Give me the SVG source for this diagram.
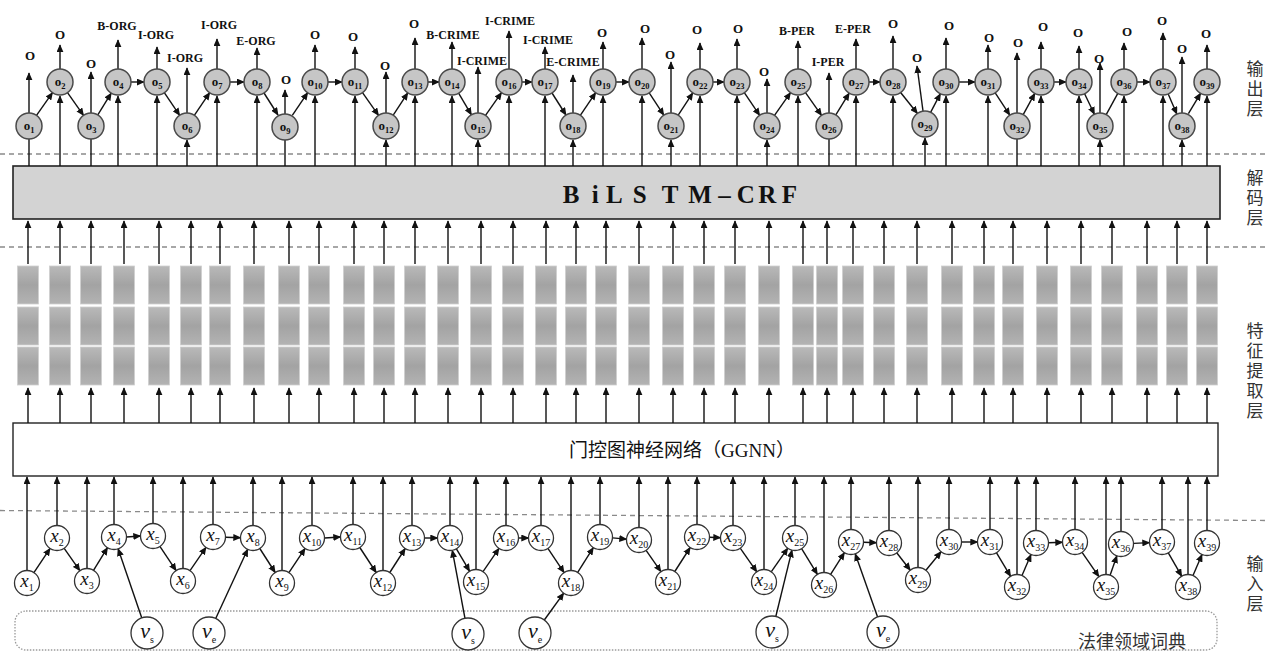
<svg xmlns="http://www.w3.org/2000/svg" xmlns:xlink="http://www.w3.org/1999/xlink" width="1266" height="652" viewBox="0 0 1266 652">
<style>
.ln{stroke:#111;stroke-width:1.4;fill:none}
.ar{stroke:#111;stroke-width:1.4;fill:none;marker-end:url(#arr)}
.dash{stroke:#8a8a8a;stroke-width:1.3;stroke-dasharray:5 4;fill:none}
.on circle{fill:#c6c6c6;stroke:#4a4a4a;stroke-width:1.5}
.on text{font-family:"Liberation Serif","DejaVu Serif",serif;font-weight:bold;font-size:13px;text-anchor:middle;fill:#111}
.on .s{font-size:8.5px}
.xn circle,.vn circle{fill:#fff;stroke:#333;stroke-width:1.3}
.xn text,.vn text{font-family:"Liberation Serif","DejaVu Serif",serif;font-style:italic;font-size:19px;text-anchor:middle;fill:#111}
.vn text{font-size:22px}
.xn .s,.vn .s{font-style:normal;font-size:10px}
.tag{font-family:"Liberation Serif","DejaVu Serif",serif;font-weight:bold;font-size:12px;text-anchor:middle;fill:#111}
.tag.o{font-size:13px}
.side{font-family:"Liberation Serif","Noto Sans CJK SC",sans-serif;font-size:17px;fill:#333;text-anchor:middle}
</style>
<defs>
<marker id="arr" viewBox="0 0 10 10" refX="9" refY="5" markerWidth="8" markerHeight="7" markerUnits="userSpaceOnUse" orient="auto" preserveAspectRatio="none"><path d="M0,0 L10,5 L0,10 z" fill="#111"/></marker>
<linearGradient id="cg" x1="0" y1="0" x2="0" y2="1"><stop offset="0" stop-color="#b9b9b9"/><stop offset="0.5" stop-color="#a3a3a3"/><stop offset="1" stop-color="#b3b3b3"/></linearGradient>
<g id="col"><rect x="-10.5" y="266" width="21" height="38" fill="url(#cg)" stroke="#cfcfcf" stroke-width="0.8"/><rect x="-10.5" y="307" width="21" height="38" fill="url(#cg)" stroke="#cfcfcf" stroke-width="0.8"/><rect x="-10.5" y="347" width="21" height="38" fill="url(#cg)" stroke="#cfcfcf" stroke-width="0.8"/></g>
</defs>
<rect width="1266" height="652" fill="#fff"/>

<g id="separators">
<line class="dash" x1="0" y1="154" x2="1266" y2="154"/>
<line class="dash" x1="0" y1="247" x2="1266" y2="247"/>
<line class="dash" x1="0" y1="510.5" x2="1266" y2="520.5"/>
</g>

<g id="lexicon">
<rect x="15" y="611" width="1202" height="39" rx="11" fill="none" stroke="#9a9a9a" stroke-width="1.3" stroke-dasharray="1.5 1.5"/>
<text x="1132" y="648" style="font-family:'Liberation Serif','Noto Sans CJK SC',sans-serif;font-size:18px;fill:#333;text-anchor:middle">法律领域词典</text>
</g>

<g id="bilstm">
<rect x="13" y="166" width="1207" height="53" fill="#d3d3d3" stroke="#222" stroke-width="1.6"/>
<text y="203" x="562.7 591.7 606 632.7 661.7 688.3 718.3 736.7 758.3 781.7" style="font-family:'Liberation Serif','DejaVu Serif',serif;font-weight:bold;font-size:25px;fill:#111">BiLSTM–CRF</text>
</g>

<g id="ggnn">
<rect x="13" y="423" width="1205" height="53" fill="#fff" stroke="#222" stroke-width="1.4"/>
<text x="682" y="457" style="font-family:'Liberation Serif','Noto Sans CJK SC',serif;font-size:19px;fill:#111;text-anchor:middle">门控图神经网络（GGNN）</text>
</g>

<g id="features">
<use xlink:href="#col" x="28"/><use xlink:href="#col" x="60"/><use xlink:href="#col" x="91"/><use xlink:href="#col" x="124"/><use xlink:href="#col" x="159"/><use xlink:href="#col" x="191"/><use xlink:href="#col" x="220"/><use xlink:href="#col" x="254"/><use xlink:href="#col" x="289"/><use xlink:href="#col" x="319"/><use xlink:href="#col" x="354"/><use xlink:href="#col" x="384"/><use xlink:href="#col" x="415"/><use xlink:href="#col" x="448"/><use xlink:href="#col" x="481"/><use xlink:href="#col" x="513"/><use xlink:href="#col" x="546"/><use xlink:href="#col" x="576"/><use xlink:href="#col" x="606"/><use xlink:href="#col" x="639"/><use xlink:href="#col" x="673"/><use xlink:href="#col" x="704"/><use xlink:href="#col" x="735"/><use xlink:href="#col" x="769"/><use xlink:href="#col" x="803"/><use xlink:href="#col" x="827"/><use xlink:href="#col" x="853"/><use xlink:href="#col" x="884"/><use xlink:href="#col" x="917"/><use xlink:href="#col" x="952"/><use xlink:href="#col" x="984"/><use xlink:href="#col" x="1013"/><use xlink:href="#col" x="1047"/><use xlink:href="#col" x="1081"/><use xlink:href="#col" x="1112"/><use xlink:href="#col" x="1147"/><use xlink:href="#col" x="1177"/><use xlink:href="#col" x="1207"/>
</g>

<g id="connectors">
<path class="ar" d="M28 423V388"/><path class="ar" d="M60 423V388"/><path class="ar" d="M91 423V388"/><path class="ar" d="M124 423V388"/><path class="ar" d="M159 423V388"/><path class="ar" d="M191 423V388"/><path class="ar" d="M220 423V388"/><path class="ar" d="M254 423V388"/><path class="ar" d="M289 423V388"/><path class="ar" d="M319 423V388"/><path class="ar" d="M354 423V388"/><path class="ar" d="M384 423V388"/><path class="ar" d="M415 423V388"/><path class="ar" d="M448 423V388"/><path class="ar" d="M481 423V388"/><path class="ar" d="M513 423V388"/><path class="ar" d="M546 423V388"/><path class="ar" d="M576 423V388"/><path class="ar" d="M606 423V388"/><path class="ar" d="M639 423V388"/><path class="ar" d="M673 423V388"/><path class="ar" d="M704 423V388"/><path class="ar" d="M735 423V388"/><path class="ar" d="M769 423V388"/><path class="ar" d="M803 423V388"/><path class="ar" d="M827 423V388"/><path class="ar" d="M853 423V388"/><path class="ar" d="M884 423V388"/><path class="ar" d="M917 423V388"/><path class="ar" d="M952 423V388"/><path class="ar" d="M984 423V388"/><path class="ar" d="M1013 423V388"/><path class="ar" d="M1047 423V388"/><path class="ar" d="M1081 423V388"/><path class="ar" d="M1112 423V388"/><path class="ar" d="M1147 423V388"/><path class="ar" d="M1177 423V388"/><path class="ar" d="M1207 423V388"/>
<path class="ar" d="M28 264V221"/><path class="ar" d="M60 264V221"/><path class="ar" d="M91 264V221"/><path class="ar" d="M124 264V221"/><path class="ar" d="M159 264V221"/><path class="ar" d="M191 264V221"/><path class="ar" d="M220 264V221"/><path class="ar" d="M254 264V221"/><path class="ar" d="M289 264V221"/><path class="ar" d="M319 264V221"/><path class="ar" d="M354 264V221"/><path class="ar" d="M384 264V221"/><path class="ar" d="M415 264V221"/><path class="ar" d="M448 264V221"/><path class="ar" d="M481 264V221"/><path class="ar" d="M513 264V221"/><path class="ar" d="M546 264V221"/><path class="ar" d="M576 264V221"/><path class="ar" d="M606 264V221"/><path class="ar" d="M639 264V221"/><path class="ar" d="M673 264V221"/><path class="ar" d="M704 264V221"/><path class="ar" d="M735 264V221"/><path class="ar" d="M769 264V221"/><path class="ar" d="M803 264V221"/><path class="ar" d="M827 264V221"/><path class="ar" d="M853 264V221"/><path class="ar" d="M884 264V221"/><path class="ar" d="M917 264V221"/><path class="ar" d="M952 264V221"/><path class="ar" d="M984 264V221"/><path class="ar" d="M1013 264V221"/><path class="ar" d="M1047 264V221"/><path class="ar" d="M1081 264V221"/><path class="ar" d="M1112 264V221"/><path class="ar" d="M1147 264V221"/><path class="ar" d="M1177 264V221"/><path class="ar" d="M1207 264V221"/>
<path class="ln" d="M29 166V139"/><path class="ar" d="M60 166V96"/><path class="ln" d="M91 166V139"/><path class="ar" d="M118 166V96"/><path class="ar" d="M157 166V96"/><path class="ar" d="M187 166V140"/><path class="ar" d="M217 166V96"/><path class="ar" d="M257 166V96"/><path class="ln" d="M285 166V139"/><path class="ar" d="M315 166V96"/><path class="ar" d="M355 166V96"/><path class="ar" d="M386 166V140"/><path class="ar" d="M415 166V96"/><path class="ar" d="M452 166V96"/><path class="ar" d="M478 166V140"/><path class="ar" d="M509 166V96"/><path class="ar" d="M545 166V96"/><path class="ar" d="M573 166V140"/><path class="ar" d="M603 166V96"/><path class="ar" d="M642 166V96"/><path class="ar" d="M671 166V140"/><path class="ar" d="M700 166V96"/><path class="ar" d="M737 166V96"/><path class="ar" d="M767 166V140"/><path class="ar" d="M798 166V96"/><path class="ln" d="M829 166V139"/><path class="ar" d="M856 166V96"/><path class="ar" d="M893 166V96"/><path class="ar" d="M925 166V138"/><path class="ar" d="M946 166V96"/><path class="ar" d="M988 166V96"/><path class="ln" d="M1017 166V139"/><path class="ar" d="M1041 166V96"/><path class="ar" d="M1079 166V96"/><path class="ar" d="M1100 166V140"/><path class="ar" d="M1124 166V96"/><path class="ar" d="M1163 166V96"/><path class="ar" d="M1182 166V140"/><path class="ar" d="M1207 166V96"/>
<path class="ar" d="M29 113V73"/><path class="ar" d="M60 69V45"/><path class="ar" d="M91 113V72"/><path class="ar" d="M118 69V40"/><path class="ar" d="M157 69V47"/><path class="ar" d="M187 113V68"/><path class="ar" d="M217 69V39"/><path class="ar" d="M257 69V48"/><path class="ar" d="M285 114V90"/><path class="ar" d="M315 69V45"/><path class="ar" d="M355 69V47"/><path class="ar" d="M386 113V72"/><path class="ar" d="M415 69V38"/><path class="ar" d="M452 69V42"/><path class="ar" d="M478 113V67"/><path class="ar" d="M509 69V31"/><path class="ar" d="M545 69V47"/><path class="ar" d="M573 113V75"/><path class="ar" d="M603 69V42"/><path class="ar" d="M642 69V38"/><path class="ar" d="M671 113V62"/><path class="ar" d="M700 69V43"/><path class="ar" d="M737 69V39"/><path class="ar" d="M767 113V79"/><path class="ar" d="M798 69V41"/><path class="ar" d="M829 113V73"/><path class="ar" d="M856 69V39"/><path class="ar" d="M893 69V36"/><path class="ar" d="M923 111L917 66"/><path class="ar" d="M946 69V38"/><path class="ar" d="M988 69V45"/><path class="ar" d="M1017 113V53"/><path class="ar" d="M1041 69V42"/><path class="ar" d="M1079 69V46"/><path class="ar" d="M1100 113V63"/><path class="ar" d="M1124 69V43"/><path class="ar" d="M1163 69V33"/><path class="ar" d="M1182 113V57"/><path class="ar" d="M1207 69V45"/>
<path class="ar" d="M36.5 115.4L52.5 92.6"/><path class="ar" d="M67.5 92.6L83.5 115.4"/><path class="ar" d="M97.8 114.9L111.2 93.1"/><path class="ar" d="M131 82H144"/><path class="ar" d="M164.3 92.7L179.7 115.3"/><path class="ar" d="M194.3 115.3L209.7 92.7"/><path class="ar" d="M230 82H244"/><path class="ar" d="M264 93L278 115"/><path class="ar" d="M292.3 115.3L307.7 92.7"/><path class="ar" d="M328 82H342"/><path class="ar" d="M362.5 92.6L378.5 115.4"/><path class="ar" d="M393.2 115.1L407.8 92.9"/><path class="ar" d="M428 82H439"/><path class="ar" d="M458.6 93.2L471.4 114.8"/><path class="ar" d="M485.5 115.4L501.5 92.6"/><path class="ar" d="M522 82H532"/><path class="ar" d="M552 93L566 115"/><path class="ar" d="M580.3 115.3L595.7 92.7"/><path class="ar" d="M616 82H629"/><path class="ar" d="M649.2 92.9L663.8 115.1"/><path class="ar" d="M678.2 115.1L692.8 92.9"/><path class="ar" d="M713 82H724"/><path class="ar" d="M744.3 92.7L759.7 115.3"/><path class="ar" d="M774.5 115.4L790.5 92.6"/><path class="ar" d="M805.5 92.6L821.5 115.4"/><path class="ar" d="M835.8 114.9L849.2 93.1"/><path class="ar" d="M869 82H880"/><path class="ar" d="M900.6 92.5L917.4 113.5"/><path class="ar" d="M930.6 112.3L940.4 93.7"/><path class="ar" d="M959 82H975"/><path class="ar" d="M995.2 92.9L1009.8 115.1"/><path class="ar" d="M1023.2 114.6L1034.8 93.4"/><path class="ar" d="M1054 82H1066"/><path class="ar" d="M1084.6 93.7L1094.4 114.3"/><path class="ln" d="M1106.2 114.6L1117.8 93.4"/><path class="ar" d="M1137 82H1150"/><path class="ar" d="M1168.2 93.9L1176.8 114.1"/><path class="ar" d="M1188.4 113.7L1200.6 93.3"/>
<path class="ar" d="M27 570V477"/><path class="ar" d="M57 525V477"/><path class="ar" d="M87 568V477"/><path class="ar" d="M114 524V477"/><path class="ar" d="M153 523V477"/><path class="ar" d="M183 568V477"/><path class="ar" d="M213 524V477"/><path class="ar" d="M253 525V477"/><path class="ar" d="M282 570V477"/><path class="ar" d="M312 525V477"/><path class="ar" d="M353 524V477"/><path class="ar" d="M383 570V477"/><path class="ar" d="M412 525V477"/><path class="ar" d="M450 525V477"/><path class="ar" d="M476 569V477"/><path class="ar" d="M506 525V477"/><path class="ar" d="M541 525V477"/><path class="ar" d="M571 570V477"/><path class="ar" d="M600 524V477"/><path class="ar" d="M639 527V477"/><path class="ar" d="M668 569V477"/><path class="ar" d="M697 524V477"/><path class="ar" d="M733 525V477"/><path class="ar" d="M764 569V477"/><path class="ar" d="M795 525V477"/><path class="ar" d="M824 572V477"/><path class="ar" d="M851 529V477"/><path class="ar" d="M889 530V477"/><path class="ar" d="M918 567V477"/><path class="ar" d="M949 529V477"/><path class="ar" d="M990 529V477"/><path class="ar" d="M1017 574V477"/><path class="ar" d="M1036 530V477"/><path class="ar" d="M1075 529V477"/><path class="ar" d="M1106 574V477"/><path class="ar" d="M1121 531V477"/><path class="ar" d="M1162 529V477"/><path class="ar" d="M1188 574V477"/><path class="ar" d="M1207 530V477"/>
<path class="ar" d="M33.9 572.6L50.1 548.4"/><path class="ar" d="M64.2 548.3L79.8 570.7"/><path class="ar" d="M93.5 570.3L107.5 547.7"/><path class="ar" d="M126.5 537L140.5 536"/><path class="ar" d="M159.9 546.4L176.1 570.6"/><path class="ar" d="M190 570.7L206 547.3"/><path class="ar" d="M225.5 537.3L240.5 537.7"/><path class="ar" d="M259.8 548.5L275.2 572.5"/><path class="ar" d="M288.9 572.6L305.1 548.4"/><path class="ar" d="M324.5 538L340.5 537"/><path class="ar" d="M359.8 547.5L376.2 572.5"/><path class="ar" d="M389.8 572.5L405.2 548.5"/><path class="ar" d="M424.5 538H437.5"/><path class="ar" d="M456.4 548.8L469.6 571.2"/><path class="ar" d="M483 571.7L499 548.3"/><path class="ar" d="M518.5 538H528.5"/><path class="ar" d="M547.9 548.4L564.1 572.6"/><path class="ar" d="M577.7 572.4L593.3 547.6"/><path class="ar" d="M612.5 537.9L626.5 539.1"/><path class="ar" d="M646.1 550.3L660.9 571.7"/><path class="ar" d="M674.8 571.5L690.2 547.5"/><path class="ar" d="M709.5 537.3L720.5 537.7"/><path class="ar" d="M740.2 548.2L756.8 571.8"/><path class="ar" d="M771.2 571.8L787.8 548.2"/><path class="ar" d="M801.6 548.6L817.4 574.4"/><path class="ar" d="M830.6 574.4L844.4 552.6"/><path class="ar" d="M863.5 542.3L876.5 542.7"/><path class="ar" d="M896.7 552.8L910.3 570.2"/><path class="ar" d="M925.9 570.3L941.1 551.7"/><path class="ar" d="M961.5 542H977.5"/><path class="ar" d="M996.4 552.7L1010.6 576.3"/><path class="ar" d="M1022 575.5L1031 554.5"/><path class="ar" d="M1048.5 542.7L1062.5 542.3"/><path class="ar" d="M1082.1 552.3L1098.9 576.7"/><path class="ar" d="M1110.1 575.2L1116.9 555.8"/><path class="ar" d="M1133.5 543.4L1149.5 542.6"/><path class="ar" d="M1168.3 552.8L1181.7 576.2"/><path class="ar" d="M1193 575.5L1202 554.5"/>
<path class="ar" d="M141.8 617.9L118.1 548.8"/><path class="ar" d="M215.7 618.5L247.7 549.3"/><path class="ar" d="M465 618.3L452.3 550.3"/><path class="ar" d="M544.3 620L563.7 593.1"/><path class="ar" d="M775.8 616.5L792 550.1"/><path class="ar" d="M877.6 616.9L855.2 553.8"/>
</g>

<g id="tags">
<text class="tag o" x="30" y="60">O</text><text class="tag o" x="60" y="39">O</text><text class="tag o" x="91" y="68">O</text><text class="tag" x="117" y="30">B-ORG</text><text class="tag" x="156" y="39">I-ORG</text><text class="tag" x="185" y="62">I-ORG</text><text class="tag" x="219" y="29">I-ORG</text><text class="tag" x="256" y="45">E-ORG</text><text class="tag o" x="286" y="84">O</text><text class="tag o" x="315" y="39">O</text><text class="tag o" x="353" y="41">O</text><text class="tag o" x="385" y="70">O</text><text class="tag o" x="414" y="28">O</text><text class="tag" x="453" y="39">B-CRIME</text><text class="tag" x="482" y="65">I-CRIME</text><text class="tag" x="510" y="25">I-CRIME</text><text class="tag" x="548" y="44">I-CRIME</text><text class="tag" x="573" y="66">E-CRIME</text><text class="tag o" x="602" y="37">O</text><text class="tag o" x="645" y="33">O</text><text class="tag o" x="670" y="59">O</text><text class="tag o" x="697" y="34">O</text><text class="tag o" x="738" y="33">O</text><text class="tag o" x="764" y="76">O</text><text class="tag" x="797" y="35">B-PER</text><text class="tag" x="828" y="66">I-PER</text><text class="tag" x="853" y="33">E-PER</text><text class="tag o" x="893" y="28">O</text><text class="tag o" x="917" y="62">O</text><text class="tag o" x="949" y="30">O</text><text class="tag o" x="989" y="42">O</text><text class="tag o" x="1018" y="47">O</text><text class="tag o" x="1043" y="31">O</text><text class="tag o" x="1078" y="37">O</text><text class="tag o" x="1099" y="63">O</text><text class="tag o" x="1127" y="36">O</text><text class="tag o" x="1162" y="25">O</text><text class="tag o" x="1182" y="53">O</text><text class="tag o" x="1206" y="38">O</text>
</g>

<g id="output-nodes">
<g id="o1" class="on"><circle cx="29" cy="126" r="13"/><text x="29" y="130">o<tspan class="s" dy="3">1</tspan></text></g>
<g id="o2" class="on"><circle cx="60" cy="82" r="13"/><text x="60" y="86">o<tspan class="s" dy="3">2</tspan></text></g>
<g id="o3" class="on"><circle cx="91" cy="126" r="13"/><text x="91" y="130">o<tspan class="s" dy="3">3</tspan></text></g>
<g id="o4" class="on"><circle cx="118" cy="82" r="13"/><text x="118" y="86">o<tspan class="s" dy="3">4</tspan></text></g>
<g id="o5" class="on"><circle cx="157" cy="82" r="13"/><text x="157" y="86">o<tspan class="s" dy="3">5</tspan></text></g>
<g id="o6" class="on"><circle cx="187" cy="126" r="13"/><text x="187" y="130">o<tspan class="s" dy="3">6</tspan></text></g>
<g id="o7" class="on"><circle cx="217" cy="82" r="13"/><text x="217" y="86">o<tspan class="s" dy="3">7</tspan></text></g>
<g id="o8" class="on"><circle cx="257" cy="82" r="13"/><text x="257" y="86">o<tspan class="s" dy="3">8</tspan></text></g>
<g id="o9" class="on"><circle cx="285" cy="127" r="13"/><text x="285" y="131">o<tspan class="s" dy="3">9</tspan></text></g>
<g id="o10" class="on"><circle cx="315" cy="82" r="13"/><text x="315" y="86">o<tspan class="s" dy="3">10</tspan></text></g>
<g id="o11" class="on"><circle cx="355" cy="82" r="13"/><text x="355" y="86">o<tspan class="s" dy="3">11</tspan></text></g>
<g id="o12" class="on"><circle cx="386" cy="126" r="13"/><text x="386" y="130">o<tspan class="s" dy="3">12</tspan></text></g>
<g id="o13" class="on"><circle cx="415" cy="82" r="13"/><text x="415" y="86">o<tspan class="s" dy="3">13</tspan></text></g>
<g id="o14" class="on"><circle cx="452" cy="82" r="13"/><text x="452" y="86">o<tspan class="s" dy="3">14</tspan></text></g>
<g id="o15" class="on"><circle cx="478" cy="126" r="13"/><text x="478" y="130">o<tspan class="s" dy="3">15</tspan></text></g>
<g id="o16" class="on"><circle cx="509" cy="82" r="13"/><text x="509" y="86">o<tspan class="s" dy="3">16</tspan></text></g>
<g id="o17" class="on"><circle cx="545" cy="82" r="13"/><text x="545" y="86">o<tspan class="s" dy="3">17</tspan></text></g>
<g id="o18" class="on"><circle cx="573" cy="126" r="13"/><text x="573" y="130">o<tspan class="s" dy="3">18</tspan></text></g>
<g id="o19" class="on"><circle cx="603" cy="82" r="13"/><text x="603" y="86">o<tspan class="s" dy="3">19</tspan></text></g>
<g id="o20" class="on"><circle cx="642" cy="82" r="13"/><text x="642" y="86">o<tspan class="s" dy="3">20</tspan></text></g>
<g id="o21" class="on"><circle cx="671" cy="126" r="13"/><text x="671" y="130">o<tspan class="s" dy="3">21</tspan></text></g>
<g id="o22" class="on"><circle cx="700" cy="82" r="13"/><text x="700" y="86">o<tspan class="s" dy="3">22</tspan></text></g>
<g id="o23" class="on"><circle cx="737" cy="82" r="13"/><text x="737" y="86">o<tspan class="s" dy="3">23</tspan></text></g>
<g id="o24" class="on"><circle cx="767" cy="126" r="13"/><text x="767" y="130">o<tspan class="s" dy="3">24</tspan></text></g>
<g id="o25" class="on"><circle cx="798" cy="82" r="13"/><text x="798" y="86">o<tspan class="s" dy="3">25</tspan></text></g>
<g id="o26" class="on"><circle cx="829" cy="126" r="13"/><text x="829" y="130">o<tspan class="s" dy="3">26</tspan></text></g>
<g id="o27" class="on"><circle cx="856" cy="82" r="13"/><text x="856" y="86">o<tspan class="s" dy="3">27</tspan></text></g>
<g id="o28" class="on"><circle cx="893" cy="82" r="13"/><text x="893" y="86">o<tspan class="s" dy="3">28</tspan></text></g>
<g id="o29" class="on"><circle cx="925" cy="124" r="13"/><text x="925" y="128">o<tspan class="s" dy="3">29</tspan></text></g>
<g id="o30" class="on"><circle cx="946" cy="82" r="13"/><text x="946" y="86">o<tspan class="s" dy="3">30</tspan></text></g>
<g id="o31" class="on"><circle cx="988" cy="82" r="13"/><text x="988" y="86">o<tspan class="s" dy="3">31</tspan></text></g>
<g id="o32" class="on"><circle cx="1017" cy="126" r="13"/><text x="1017" y="130">o<tspan class="s" dy="3">32</tspan></text></g>
<g id="o33" class="on"><circle cx="1041" cy="82" r="13"/><text x="1041" y="86">o<tspan class="s" dy="3">33</tspan></text></g>
<g id="o34" class="on"><circle cx="1079" cy="82" r="13"/><text x="1079" y="86">o<tspan class="s" dy="3">34</tspan></text></g>
<g id="o35" class="on"><circle cx="1100" cy="126" r="13"/><text x="1100" y="130">o<tspan class="s" dy="3">35</tspan></text></g>
<g id="o36" class="on"><circle cx="1124" cy="82" r="13"/><text x="1124" y="86">o<tspan class="s" dy="3">36</tspan></text></g>
<g id="o37" class="on"><circle cx="1163" cy="82" r="13"/><text x="1163" y="86">o<tspan class="s" dy="3">37</tspan></text></g>
<g id="o38" class="on"><circle cx="1182" cy="126" r="13"/><text x="1182" y="130">o<tspan class="s" dy="3">38</tspan></text></g>
<g id="o39" class="on"><circle cx="1207" cy="82" r="13"/><text x="1207" y="86">o<tspan class="s" dy="3">39</tspan></text></g>
</g>

<g id="input-nodes">
<g id="x1" class="xn"><circle cx="27" cy="583" r="12.5"/><text x="27" y="587">x<tspan class="s" dy="4">1</tspan></text></g>
<g id="x2" class="xn"><circle cx="57" cy="538" r="12.5"/><text x="57" y="542">x<tspan class="s" dy="4">2</tspan></text></g>
<g id="x3" class="xn"><circle cx="87" cy="581" r="12.5"/><text x="87" y="585">x<tspan class="s" dy="4">3</tspan></text></g>
<g id="x4" class="xn"><circle cx="114" cy="537" r="12.5"/><text x="114" y="541">x<tspan class="s" dy="4">4</tspan></text></g>
<g id="x5" class="xn"><circle cx="153" cy="536" r="12.5"/><text x="153" y="540">x<tspan class="s" dy="4">5</tspan></text></g>
<g id="x6" class="xn"><circle cx="183" cy="581" r="12.5"/><text x="183" y="585">x<tspan class="s" dy="4">6</tspan></text></g>
<g id="x7" class="xn"><circle cx="213" cy="537" r="12.5"/><text x="213" y="541">x<tspan class="s" dy="4">7</tspan></text></g>
<g id="x8" class="xn"><circle cx="253" cy="538" r="12.5"/><text x="253" y="542">x<tspan class="s" dy="4">8</tspan></text></g>
<g id="x9" class="xn"><circle cx="282" cy="583" r="12.5"/><text x="282" y="587">x<tspan class="s" dy="4">9</tspan></text></g>
<g id="x10" class="xn"><circle cx="312" cy="538" r="12.5"/><text x="312" y="542">x<tspan class="s" dy="4">10</tspan></text></g>
<g id="x11" class="xn"><circle cx="353" cy="537" r="12.5"/><text x="353" y="541">x<tspan class="s" dy="4">11</tspan></text></g>
<g id="x12" class="xn"><circle cx="383" cy="583" r="12.5"/><text x="383" y="587">x<tspan class="s" dy="4">12</tspan></text></g>
<g id="x13" class="xn"><circle cx="412" cy="538" r="12.5"/><text x="412" y="542">x<tspan class="s" dy="4">13</tspan></text></g>
<g id="x14" class="xn"><circle cx="450" cy="538" r="12.5"/><text x="450" y="542">x<tspan class="s" dy="4">14</tspan></text></g>
<g id="x15" class="xn"><circle cx="476" cy="582" r="12.5"/><text x="476" y="586">x<tspan class="s" dy="4">15</tspan></text></g>
<g id="x16" class="xn"><circle cx="506" cy="538" r="12.5"/><text x="506" y="542">x<tspan class="s" dy="4">16</tspan></text></g>
<g id="x17" class="xn"><circle cx="541" cy="538" r="12.5"/><text x="541" y="542">x<tspan class="s" dy="4">17</tspan></text></g>
<g id="x18" class="xn"><circle cx="571" cy="583" r="12.5"/><text x="571" y="587">x<tspan class="s" dy="4">18</tspan></text></g>
<g id="x19" class="xn"><circle cx="600" cy="537" r="12.5"/><text x="600" y="541">x<tspan class="s" dy="4">19</tspan></text></g>
<g id="x20" class="xn"><circle cx="639" cy="540" r="12.5"/><text x="639" y="544">x<tspan class="s" dy="4">20</tspan></text></g>
<g id="x21" class="xn"><circle cx="668" cy="582" r="12.5"/><text x="668" y="586">x<tspan class="s" dy="4">21</tspan></text></g>
<g id="x22" class="xn"><circle cx="697" cy="537" r="12.5"/><text x="697" y="541">x<tspan class="s" dy="4">22</tspan></text></g>
<g id="x23" class="xn"><circle cx="733" cy="538" r="12.5"/><text x="733" y="542">x<tspan class="s" dy="4">23</tspan></text></g>
<g id="x24" class="xn"><circle cx="764" cy="582" r="12.5"/><text x="764" y="586">x<tspan class="s" dy="4">24</tspan></text></g>
<g id="x25" class="xn"><circle cx="795" cy="538" r="12.5"/><text x="795" y="542">x<tspan class="s" dy="4">25</tspan></text></g>
<g id="x26" class="xn"><circle cx="824" cy="585" r="12.5"/><text x="824" y="589">x<tspan class="s" dy="4">26</tspan></text></g>
<g id="x27" class="xn"><circle cx="851" cy="542" r="12.5"/><text x="851" y="546">x<tspan class="s" dy="4">27</tspan></text></g>
<g id="x28" class="xn"><circle cx="889" cy="543" r="12.5"/><text x="889" y="547">x<tspan class="s" dy="4">28</tspan></text></g>
<g id="x29" class="xn"><circle cx="918" cy="580" r="12.5"/><text x="918" y="584">x<tspan class="s" dy="4">29</tspan></text></g>
<g id="x30" class="xn"><circle cx="949" cy="542" r="12.5"/><text x="949" y="546">x<tspan class="s" dy="4">30</tspan></text></g>
<g id="x31" class="xn"><circle cx="990" cy="542" r="12.5"/><text x="990" y="546">x<tspan class="s" dy="4">31</tspan></text></g>
<g id="x32" class="xn"><circle cx="1017" cy="587" r="12.5"/><text x="1017" y="591">x<tspan class="s" dy="4">32</tspan></text></g>
<g id="x33" class="xn"><circle cx="1036" cy="543" r="12.5"/><text x="1036" y="547">x<tspan class="s" dy="4">33</tspan></text></g>
<g id="x34" class="xn"><circle cx="1075" cy="542" r="12.5"/><text x="1075" y="546">x<tspan class="s" dy="4">34</tspan></text></g>
<g id="x35" class="xn"><circle cx="1106" cy="587" r="12.5"/><text x="1106" y="591">x<tspan class="s" dy="4">35</tspan></text></g>
<g id="x36" class="xn"><circle cx="1121" cy="544" r="12.5"/><text x="1121" y="548">x<tspan class="s" dy="4">36</tspan></text></g>
<g id="x37" class="xn"><circle cx="1162" cy="542" r="12.5"/><text x="1162" y="546">x<tspan class="s" dy="4">37</tspan></text></g>
<g id="x38" class="xn"><circle cx="1188" cy="587" r="12.5"/><text x="1188" y="591">x<tspan class="s" dy="4">38</tspan></text></g>
<g id="x39" class="xn"><circle cx="1207" cy="543" r="12.5"/><text x="1207" y="547">x<tspan class="s" dy="4">39</tspan></text></g>
</g>

<g id="lexicon-nodes">
<g id="vs1" class="vn"><circle cx="147" cy="633" r="16"/><text x="147" y="638">v<tspan class="s" dy="5">s</tspan></text></g>
<g id="ve1" class="vn"><circle cx="209" cy="633" r="16"/><text x="209" y="638">v<tspan class="s" dy="5">e</tspan></text></g>
<g id="vs2" class="vn"><circle cx="468" cy="634" r="16"/><text x="468" y="639">v<tspan class="s" dy="5">s</tspan></text></g>
<g id="ve2" class="vn"><circle cx="535" cy="633" r="16"/><text x="535" y="638">v<tspan class="s" dy="5">e</tspan></text></g>
<g id="vs3" class="vn"><circle cx="772" cy="632" r="16"/><text x="772" y="637">v<tspan class="s" dy="5">s</tspan></text></g>
<g id="ve3" class="vn"><circle cx="883" cy="632" r="16"/><text x="883" y="637">v<tspan class="s" dy="5">e</tspan></text></g>
</g>

<g id="layer-labels">
<text class="side" x="1255" y="75">输</text><text class="side" x="1255" y="95">出</text><text class="side" x="1255" y="115">层</text>
<text class="side" x="1255" y="184">解</text><text class="side" x="1255" y="204">码</text><text class="side" x="1255" y="224">层</text>
<text class="side" x="1255" y="337">特</text><text class="side" x="1255" y="357">征</text><text class="side" x="1255" y="377">提</text><text class="side" x="1255" y="397">取</text><text class="side" x="1255" y="417">层</text>
<text class="side" x="1255" y="570">输</text><text class="side" x="1255" y="590">入</text><text class="side" x="1255" y="610">层</text>
</g>
</svg>
